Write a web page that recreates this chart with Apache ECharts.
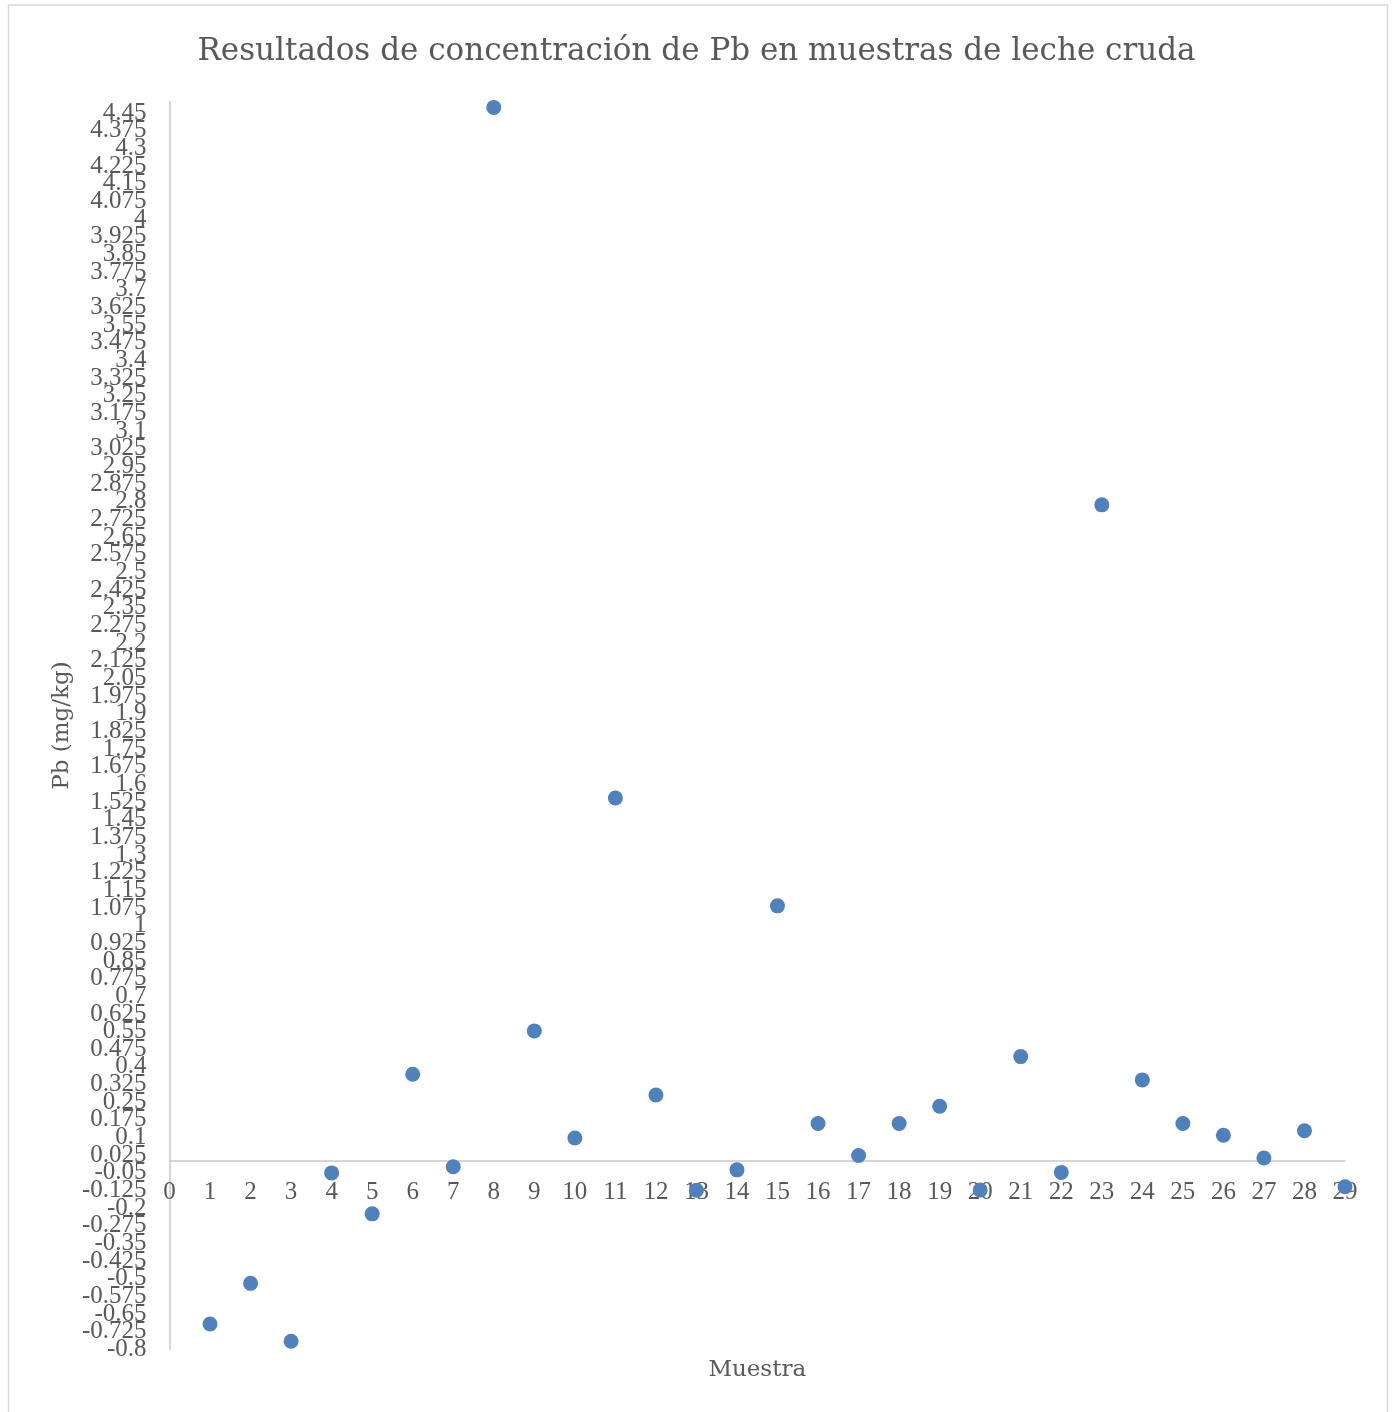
<!DOCTYPE html>
<html>
<head>
<meta charset="utf-8">
<title>Pb en leche cruda</title>
<script src="https://cdn.jsdelivr.net/npm/echarts@6/dist/echarts.min.js"></script>
<style>
  html, body { margin: 0; padding: 0; background: #ffffff; }
  #chart { width: 1393px; height: 1412px; }
</style>
</head>
<body>
<div id="chart"></div>
<script>
// Sample numbers (Muestra) and measured lead concentration, mg/kg
const muestras = [1, 2, 3, 4, 5, 6, 7, 8, 9, 10, 11, 12, 13, 14, 15, 16, 17, 18, 19, 20, 21, 22, 23, 24, 25, 26, 27, 28, 29];
const pb = [-0.692, -0.519, -0.765, -0.050, -0.224, 0.369, -0.024, 4.475, 0.553, 0.098,
            1.542, 0.281, -0.124, -0.037, 1.084, 0.160, 0.024, 0.160, 0.233, -0.123,
            0.444, -0.048, 2.787, 0.345, 0.160, 0.110, 0.013, 0.129, -0.109];

// Y axis tick labels (step 0.075 starting at -0.8)
const yTicks = [-0.8, -0.725, -0.65, -0.575, -0.5, -0.425, -0.35, -0.275, -0.2, -0.125,
                -0.05, 0.025, 0.1, 0.175, 0.25, 0.325, 0.4, 0.475, 0.55, 0.625,
                0.7, 0.775, 0.85, 0.925, 1, 1.075, 1.15, 1.225, 1.3, 1.375,
                1.45, 1.525, 1.6, 1.675, 1.75, 1.825, 1.9, 1.975, 2.05, 2.125,
                2.2, 2.275, 2.35, 2.425, 2.5, 2.575, 2.65, 2.725, 2.8, 2.875,
                2.95, 3.025, 3.1, 3.175, 3.25, 3.325, 3.4, 3.475, 3.55, 3.625,
                3.7, 3.775, 3.85, 3.925, 4, 4.075, 4.15, 4.225, 4.3, 4.375, 4.45];
const Y_MIN = -0.8;
const Y_MAX = 4.5;

const NUM_FONT = '"Liberation Serif", "DejaVu Serif", serif';
const TXT_FONT = '"DejaVu Serif", "Liberation Serif", serif';
const TEXT = '#595959';
const AXIS = '#c9c9c9';

// The labels are packed tighter than their own height; they are split over two
// coincident axes so the axis builder keeps every one of them.
const yTicksA = yTicks.filter((_, i) => i % 2 === 0);
const yTicksB = yTicks.filter((_, i) => i % 2 === 1);

function yLabelAxis(values, withLine) {
  return {
    type: 'value',
    position: 'left',
    min: Y_MIN,
    max: Y_MAX,
    axisLine: { show: withLine, onZero: false, lineStyle: { color: AXIS, width: 1.5 } },
    axisTick: { show: false },
    splitLine: { show: false },
    axisLabel: {
      customValues: values,
      showMinLabel: true,
      showMaxLabel: true,
      fontFamily: NUM_FONT,
      fontSize: 25,
      color: TEXT,
      margin: 23,
      formatter: v => String(v)
    }
  };
}

const yAxisMain = Object.assign(yLabelAxis(yTicksA, true), {
  name: 'Pb (mg/kg)',
  nameLocation: 'middle',
  nameGap: 96,
  nameRotate: 90,
  nameTextStyle: { fontFamily: TXT_FONT, fontSize: 23, color: TEXT }
});
const yAxisOdd = yLabelAxis(yTicksB, false);

const chart = echarts.init(document.getElementById('chart'), null, { renderer: 'canvas' });

chart.setOption({
  backgroundColor: '#ffffff',
  animation: false,
  title: {
    text: 'Resultados de concentración de Pb en muestras de leche cruda',
    left: 'center',
    top: 31,
    textStyle: { fontFamily: TXT_FONT, fontSize: 31, fontWeight: 'normal', color: TEXT }
  },
  graphic: [{
    type: 'rect',
    shape: { x: 8.5, y: 5, width: 1379, height: 1430 },
    style: { fill: 'none', stroke: '#d9d9d9', lineWidth: 1.5 },
    silent: true
  }],
  grid: {
    left: 169.5, right: 48, top: 101.5, bottom: 62.5,
    outerBoundsMode: 'none'
  },
  xAxis: {
    type: 'value',
    min: 0,
    max: 29,
    interval: 1,
    name: 'Muestra',
    nameLocation: 'middle',
    nameGap: 197,
    nameTextStyle: { fontFamily: TXT_FONT, fontSize: 23, color: TEXT },
    axisLine: { onZero: false, lineStyle: { color: AXIS, width: 1.5 } },
    axisTick: { show: false },
    splitLine: { show: false },
    axisLabel: { fontFamily: NUM_FONT, fontSize: 25, color: TEXT, margin: 19 }
  },
  yAxis: [yAxisMain, yAxisOdd],
  series: [{
    type: 'scatter',
    yAxisIndex: 0,
    data: muestras.map((m, i) => [m, pb[i]]),
    symbol: 'circle',
    symbolSize: 15,
    itemStyle: { color: '#4f81bd', opacity: 1 },
    clip: false
  }]
});

// Lift the horizontal axis (line, labels and name) onto the y = 0 level.
const yZeroPx = chart.convertToPixel({ yAxisIndex: 0 }, 0);
const yMinPx = chart.convertToPixel({ yAxisIndex: 0 }, Y_MIN);
chart.setOption({ xAxis: { offset: yZeroPx - yMinPx } });
</script>
</body>
</html>
